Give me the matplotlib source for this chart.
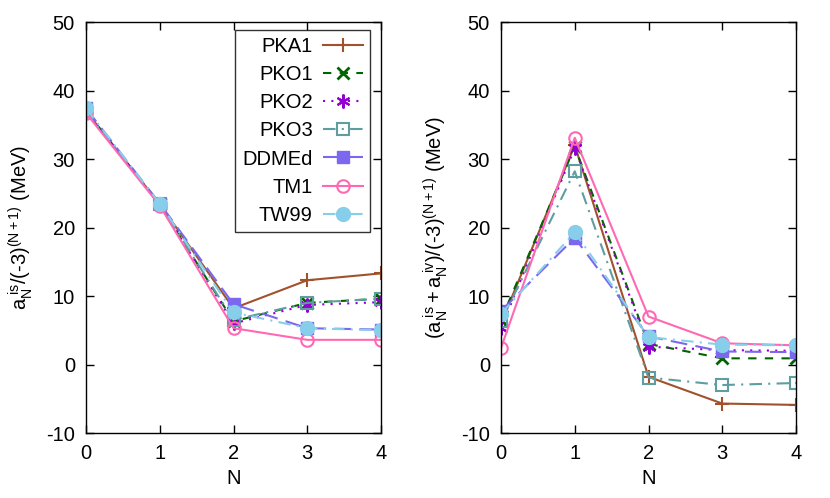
import matplotlib.pyplot as plt
import numpy as np

plt.rcParams['font.family'] = ['Liberation Sans', 'DejaVu Sans']
plt.rcParams['font.size'] = 14.5
plt.rcParams['axes.unicode_minus'] = False
plt.rcParams['mathtext.fontset'] = 'custom'
plt.rcParams['mathtext.rm'] = 'Liberation Sans'
plt.rcParams['mathtext.it'] = 'Liberation Sans'

N = [0, 1, 2, 3, 4]
names = ['PKA1', 'PKO1', 'PKO2', 'PKO3', 'DDMEd', 'TM1', 'TW99']

# left panel: a_N^is/(-3)^(N+1)
left_vals = {
    'PKA1':  [37.0, 23.4, 8.2, 12.3, 13.3],
    'PKO1':  [37.0, 23.4, 6.3, 9.0, 9.6],
    'PKO2':  [37.0, 23.4, 6.0, 8.7, 9.1],
    'PKO3':  [37.0, 23.4, 6.5, 9.0, 9.6],
    'DDMEd': [37.4, 23.5, 8.8, 5.3, 5.1],
    'TM1':   [36.7, 23.2, 5.3, 3.6, 3.6],
    'TW99':  [37.4, 23.5, 7.6, 5.3, 5.0],
}
# right panel: (a_N^is+a_N^iv)/(-3)^(N+1)
right_vals = {
    'PKA1':  [6.0, 32.0, -1.8, -5.7, -5.9],
    'PKO1':  [6.5, 31.8, 3.0, 0.9, 0.9],
    'PKO2':  [5.3, 31.6, 2.6, 2.1, 2.0],
    'PKO3':  [6.3, 28.2, -1.9, -3.0, -2.7],
    'DDMEd': [7.8, 18.5, 4.1, 1.9, 1.8],
    'TM1':   [2.4, 33.1, 7.0, 3.1, 2.8],
    'TW99':  [7.4, 19.3, 4.0, 2.9, 2.8],
}

styles = {
    'PKA1':  dict(color='#a0522d', ls='-', marker='+', ms=10, mew=1.5, mfc='none'),
    'PKO1':  dict(color='#006400', ls=(0, (4, 4)), marker='x', ms=8, mew=2, mfc='none'),
    'PKO2':  dict(color='#9400d3', ls=(0, (1, 3)), marker=(6, 2, 0), ms=10, mew=1.5, mfc='none'),
    'PKO3':  dict(color='#5f9ea0', ls=(0, (6, 3, 1, 3)), marker='s', ms=9, mew=1.5, mfc='none'),
    'DDMEd': dict(color='#7b68ee', ls=(0, (8, 4)), marker='s', ms=9, mew=1, mfc='#7b68ee'),
    'TM1':   dict(color='#ff69b4', ls='-', marker='o', ms=9, mew=1.5, mfc='none'),
    'TW99':  dict(color='#87ceeb', ls=(0, (6, 3, 1, 3)), marker='o', ms=10, mew=1, mfc='#87ceeb'),
}

fig = plt.figure(figsize=(8.3, 4.98), dpi=100)
ax1 = fig.add_axes([86/830, 1-433/498, (381-86)/830, (433-22)/498])
ax2 = fig.add_axes([501/830, 1-433/498, (796-501)/830, (433-22)/498])

for ax, vals in ((ax1, left_vals), (ax2, right_vals)):
    for nm in names:
        ax.plot(N, vals[nm], lw=1.5, label=nm, **styles[nm])
    ax.set_xlim(0, 4)
    ax.set_ylim(-10, 50)
    ax.set_xticks(N)
    ax.set_yticks(np.arange(-10, 51, 10))
    ax.tick_params(direction='in', top=True, right=True, length=6, width=1, pad=8)
    ax.set_xlabel('N', labelpad=4)
    for s in ax.spines.values():
        s.set_linewidth(1)

ax1.set_ylabel('$\\mathregular{a_N^{\\ is}/(\u20103)^{(N+1)}}$ (MeV)', labelpad=8)
ax2.set_ylabel('$\\mathregular{(a_N^{\\ is}+a_N^{\\ iv})/(\u20103)^{(N+1)}}$ (MeV)', labelpad=8)

leg = ax1.legend(loc='upper right', bbox_to_anchor=(0.963, 0.98), borderaxespad=0,
                 markerfirst=False, frameon=True, fancybox=False, edgecolor='black',
                 handlelength=2.0, labelspacing=0.45, borderpad=0.35, handletextpad=0.5)
leg.get_frame().set_linewidth(1)
for t in leg.get_texts():
    t.set_ha('right')

fig.savefig('out.png', dpi=100)
